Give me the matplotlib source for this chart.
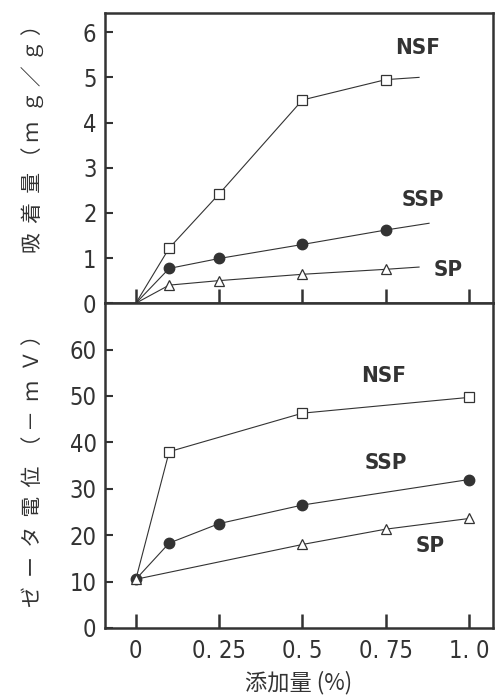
import matplotlib.pyplot as plt

# 吸着量 (mg/g)
ads_nsf_x = [0, 0.1, 0.25, 0.5, 0.75]
ads_nsf_y = [0, 1.22, 2.42, 4.5, 4.95]
ads_ssp_x = [0, 0.1, 0.25, 0.5, 0.75]
ads_ssp_y = [0, 0.77, 0.99, 1.3, 1.62]
ads_sp_x = [0, 0.1, 0.25, 0.5, 0.75]
ads_sp_y = [0, 0.4, 0.5, 0.64, 0.75]
# trailing line segments beyond the last measured point
ads_tail_x = {"NSF": 0.85, "SSP": 0.88, "SP": 0.85}
ads_tail_y = {"NSF": 5.0, "SSP": 1.77, "SP": 0.8}

# ゼータ電位 (-mV)
zeta_nsf_x = [0, 0.1, 0.5, 1.0]
zeta_nsf_y = [10.5, 38.0, 46.3, 49.7]
zeta_ssp_x = [0, 0.1, 0.25, 0.5, 1.0]
zeta_ssp_y = [10.5, 18.3, 22.5, 26.5, 32.0]
zeta_sp_x = [0, 0.5, 0.75, 1.0]
zeta_sp_y = [10.5, 18.0, 21.3, 23.6]

x_ticks = [0, 0.25, 0.5, 0.75, 1.0]
x_ticklabels = ["0", "0. 25", "0. 5", "0. 75", "1. 0"]

num_font = dict(family="DejaVu Sans", stretch="condensed")
jp_font = ["Noto Sans CJK JP", "DejaVu Sans"]

ink = "#333333"
plt.rcParams["axes.edgecolor"] = ink
plt.rcParams["axes.linewidth"] = 1.8

fig = plt.figure(figsize=(4.97, 6.97), dpi=100)
ax1 = fig.add_axes([0.211, 0.565, 0.781, 0.416])
ax2 = fig.add_axes([0.211, 0.099, 0.781, 0.466])

line_kw = dict(color=ink, lw=0.8)
sq = dict(marker="s", ms=7, mfc="white", mec=ink, mew=0.9)
ci = dict(marker="o", ms=7.5, mfc=ink, mec=ink)
tr = dict(marker="^", ms=7, mfc="white", mec=ink, mew=0.9)

# top panel
for key, xs, ys, mk in [("NSF", ads_nsf_x, ads_nsf_y, sq),
                        ("SSP", ads_ssp_x, ads_ssp_y, ci),
                        ("SP", ads_sp_x, ads_sp_y, tr)]:
    ax1.plot([xs[-1], ads_tail_x[key]], [ys[-1], ads_tail_y[key]], **line_kw)
    ax1.plot(xs, ys, **line_kw, zorder=2)
    ax1.plot(xs[1:], ys[1:], ls="none", zorder=3, **mk)

ax1.set_xlim(-0.093, 1.072)
ax1.set_ylim(0, 6.42)
ax1.set_yticks(range(0, 7))
ax1.set_xticks(x_ticks)
ax1.tick_params(axis="x", direction="in", length=10, width=1.8, color=ink,
                labelbottom=False)
ax1.tick_params(axis="y", direction="in", length=6, width=1.5, color=ink,
                labelsize=17, pad=6, labelcolor=ink)
for t in ax1.get_yticklabels():
    t.set(**num_font)

label_kw = dict(fontsize=16, color=ink, ha="center", va="center",
                weight="bold", **num_font)
ax1.text(0.845, 5.66, "NSF", **label_kw)
ax1.text(0.86, 2.28, "SSP", **label_kw)
ax1.text(0.937, 0.73, "SP", **label_kw)
ax1.text(-0.31, 3.75, "吸  着  量 （ ｍ  ｇ ／ ｇ ）", rotation=90, fontsize=15,
         family=jp_font, color=ink, ha="center", va="center")

# bottom panel
ax2.plot(zeta_nsf_x, zeta_nsf_y, **line_kw)
ax2.plot(zeta_ssp_x, zeta_ssp_y, **line_kw)
ax2.plot(zeta_sp_x, zeta_sp_y, **line_kw)
ax2.plot(zeta_ssp_x, zeta_ssp_y, ls="none", zorder=3, **ci)
ax2.plot(zeta_nsf_x[1:], zeta_nsf_y[1:], ls="none", zorder=3, **sq)
ax2.plot(zeta_sp_x, zeta_sp_y, ls="none", zorder=4, **tr)

ax2.set_xlim(-0.093, 1.072)
ax2.set_ylim(0, 70)
ax2.set_yticks(range(0, 70, 10))
ax2.set_xticks(x_ticks)
ax2.set_xticklabels(x_ticklabels)
ax2.tick_params(axis="x", direction="in", length=10, width=1.8, color=ink,
                labelsize=17, pad=8, labelcolor=ink)
ax2.tick_params(axis="y", direction="in", length=6, width=1.5, color=ink,
                labelsize=17, pad=6, labelcolor=ink)
for t in ax2.get_xticklabels() + ax2.get_yticklabels():
    t.set(**num_font)

ax2.text(0.745, 54.4, "NSF", **label_kw)
ax2.text(0.75, 35.6, "SSP", **label_kw)
ax2.text(0.883, 17.7, "SP", **label_kw)
ax2.text(-0.31, 35, "ゼ  ー  タ  電  位  （ －  ｍ  Ｖ ）", rotation=90, fontsize=15,
         family=jp_font, color=ink, ha="center", va="center")

fig.text(0.6, 0.02, "添加量 (%)", fontsize=16, family=jp_font, color=ink,
         ha="center", va="center")

fig.savefig("out.png", dpi=100)
